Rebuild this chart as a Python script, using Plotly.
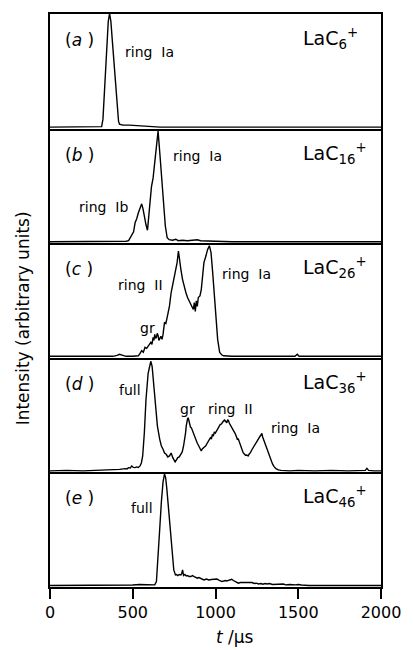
import plotly.graph_objects as go
from plotly.subplots import make_subplots

# Time-of-flight traces (t in microseconds, intensity in arbitrary units)
t_a = [0, 150, 300, 312, 320, 328, 336, 344, 352, 360, 368, 376, 384, 392, 400, 408, 414, 420,
       440, 480, 520, 560, 600, 640, 665, 900, 1200, 1500, 1800, 2000]
i_a = [0, 0, 0, 0.5, 8, 30, 55, 85, 106, 114, 106, 88, 72, 55, 35, 16, 6, 3,
       2, 2, 1.5, 1.5, 1, 0.5, 0, 0, 0, 0, 0, 0]

t_b = [0, 200, 400, 460, 475, 485, 495, 505, 514, 524, 534, 544, 554, 562, 570, 580, 589, 600,
       613, 623, 633, 643, 653, 663, 673, 683, 690, 697, 708, 720, 740, 760, 775, 800, 830, 860,
       890, 910, 950, 1000, 1100, 1200, 1400, 1600, 1800, 2000]
i_b = [0, 0, 0, 0.5, 1, 4, 7, 10, 19, 23, 29, 34, 38, 33, 25, 17, 11.5, 33,
       55, 64, 82, 97, 111, 90, 68, 49, 30, 15.5, 4, 2, 1.5, 2.5, 1, 1.5, 1, 1.5,
       2, 1, 0.5, 0.5, 0, 0, 0, 0, 0, 0]

t_c = [0, 200, 380, 405, 420, 440, 460, 500, 534, 544, 554, 564, 574, 584, 594, 602, 609, 616,
       623, 628, 633, 638, 643, 648, 653, 658, 663, 670, 677, 683, 692, 700, 708, 715, 722, 732,
       742, 752, 760, 768, 776, 781, 791, 801, 811, 821, 831, 841, 851, 861, 866, 872, 878, 884,
       890, 896, 906, 914, 922, 930, 942, 952, 963, 973, 983, 993, 1003, 1013, 1025, 1037, 1049,
       1100, 1200, 1300, 1400, 1480, 1494, 1505, 1600, 1800, 2000]
i_c = [0, 0, 0, 1, 2, 1, 0, 0, 0.5, 3, 5.6, 4, 9, 8, 10, 12, 14, 12,
       19, 16, 22, 18, 19, 23, 21, 16, 18, 20, 17, 22, 34, 33, 39, 44, 50.6, 64,
       72, 80.6, 88, 94, 105.6, 97, 87, 77, 69, 64, 59, 56, 52, 49, 47, 54, 45, 55.6,
       50, 59, 60.6, 67, 80.6, 94, 100.6, 107, 111, 104, 84, 60.6, 37, 17, 4, 1.5, 0.5,
       0, 0, 0, 0, 0, 2, 0, 0, 0, 0]

t_d = [0, 100, 200, 300, 380, 420, 455, 465, 475, 485, 494, 504, 514, 524, 534, 544, 552, 560,
       570, 580, 593, 601, 609, 617, 629, 639, 649, 663, 673, 683, 692, 702, 712, 722, 732, 742,
       749, 756, 764, 772, 781, 791, 799, 807, 813, 819, 823, 827, 831, 835, 839, 843, 849, 855,
       861, 866, 872, 878, 884, 890, 896, 902, 908, 914, 920, 926, 933, 940, 947, 954, 961, 969,
       975, 981, 987, 993, 999, 1005, 1011, 1017, 1023, 1029, 1035, 1041, 1048, 1055, 1061, 1068,
       1073, 1078, 1083, 1088, 1098, 1108, 1118, 1125, 1132, 1138, 1144, 1150, 1156, 1162, 1167,
       1174, 1181, 1189, 1197, 1204, 1211, 1219, 1227, 1234, 1242, 1249, 1256, 1263, 1270, 1275,
       1280, 1285, 1290, 1296, 1302, 1309, 1316, 1322, 1329, 1337, 1345, 1355, 1365, 1380, 1395,
       1450, 1500, 1600, 1700, 1800, 1880, 1905, 1915, 1925, 1960, 2000]
i_d = [0, 0.5, 0, 0.5, 1, 1.5, 2.3, 2, 3.3, 3, 5, 3.5, 3.3, 4, 3.5, 5, 8, 15,
       38, 71.7, 98, 106, 110, 105, 85, 61.7, 45, 31.7, 25, 21.7, 18, 16.7, 14, 15, 18, 13.3,
       11, 9, 11, 13.3, 14, 16.7, 19, 25, 30, 38, 45, 50, 52, 53.3, 50, 48, 44, 43,
       40, 38, 36, 33, 30, 27.7, 26, 24.3, 22, 20, 22, 23.3, 24, 25, 27, 28.3, 31, 33.3,
       32, 36.7, 35, 39, 38, 40, 42, 44.3, 45, 46.7, 47, 49, 50, 51, 50, 48.3,
       51, 50.7, 48, 46.7, 44, 41.7, 37.7, 35, 31.7, 32, 29, 26, 23.3, 21, 18.3,
       17, 15.7, 16, 15, 17, 18.3, 21, 23.3, 26, 28.3, 30, 31.7, 33, 35, 36,
       37.7, 34, 31.7, 29, 25.7, 23, 20, 16, 13.3, 10, 6.7, 4, 2.3, 1, 0.5,
       0, 0.5, 0, 0.5, 0, 0, 0.5, 2.5, 0.5, 0, 0]

t_e = [0, 200, 400, 500, 540, 580, 610, 633, 643, 653, 663, 673, 683, 692, 699, 706, 716, 726,
       738, 748, 758, 765, 772, 781, 791, 796, 801, 807, 815, 823, 831, 841, 851, 861, 871, 880,
       890, 900, 910, 920, 930, 945, 960, 975, 989, 1000, 1009, 1020, 1030, 1039, 1050, 1060,
       1068, 1080, 1092, 1098, 1108, 1118, 1128, 1138, 1150, 1167, 1180, 1195, 1207, 1220, 1235,
       1246, 1260, 1275, 1286, 1300, 1312, 1325, 1345, 1365, 1390, 1410, 1424, 1450, 1484, 1500,
       1520, 1563, 1700, 1850, 2000]
i_e = [0, 0, 0, 0.5, 1, 1, 1, 0.6, 4, 27, 57, 84, 104, 112, 108, 97, 77, 50.6,
       27, 15.6, 10.6, 11, 10, 11, 10.6, 12, 15.6, 10, 11, 9.5, 10, 9, 9, 10, 9, 8,
       7.3, 8, 7.3, 6.5, 5.6, 6.5, 5.6, 6, 6.3, 7, 6.6, 5.5, 5, 4, 4.5, 5,
       4.6, 5, 6, 6.3, 5, 4, 3, 2.3, 3, 3, 2.5, 3, 2.3, 3, 2,
       2.3, 1.5, 2, 1.3, 2, 1.5, 2, 1, 1.3, 1, 1.5, 0.6, 1, 0.6, 1,
       0.5, 0, 0, 0, 0]

series = [(t_a, i_a), (t_b, i_b), (t_c, i_c), (t_d, i_d), (t_e, i_e)]
for t, v in series:
    assert len(t) == len(v), (len(t), len(v))

panel_tags = ["(<i>a</i> )", "(<i>b</i> )", "(<i>c</i> )", "(<i>d</i> )", "(<i>e</i> )"]
species = ["LaC<sub>6</sub><sup>+</sup>", "LaC<sub>16</sub><sup>+</sup>",
           "LaC<sub>26</sub><sup>+</sup>", "LaC<sub>36</sub><sup>+</sup>",
           "LaC<sub>46</sub><sup>+</sup>"]

# peak assignments: (panel, label, t position, intensity position)
peak_labels = [
    (1, "ring\u00a0 Ia", 439, 75.5),
    (2, "ring\u00a0 Ia", 730, 86.5),
    (2, "ring\u00a0 Ib", 166, 34.5),
    (3, "ring\u00a0 II", 398, 71.5),
    (3, "gr", 534, 28.5),
    (3, "ring\u00a0 Ia", 1027, 82.5),
    (4, "full", 404, 81.5),
    (4, "gr", 772, 62.5),
    (4, "ring\u00a0 II", 944, 62.5),
    (4, "ring\u00a0 Ia", 1323, 43.5),
    (5, "full", 475, 77.5),
]

x_ticks = [0, 500, 1000, 1500, 2000]

FONT = "DejaVu Sans"
LW = 1.8

fig = make_subplots(rows=5, cols=1, shared_xaxes=True, vertical_spacing=0)

for row, (t, v) in enumerate(series, start=1):
    fig.add_trace(go.Scatter(x=t, y=v, mode="lines",
                             line=dict(color="black", width=1.4),
                             showlegend=False, hoverinfo="skip"),
                  row=row, col=1)
    fig.update_yaxes(range=[-1.5, 113.5], showline=True, mirror=True,
                     linecolor="black", linewidth=LW, showgrid=False,
                     zeroline=False, showticklabels=False, ticks="",
                     row=row, col=1)
    # each panel draws its own bottom edge; only the top panel also draws the top edge
    fig.update_xaxes(range=[0, 2000], showline=True, mirror=(row == 1),
                     linecolor="black", linewidth=LW, showgrid=False,
                     zeroline=False, row=row, col=1)

fig.update_xaxes(tickvals=x_ticks, ticktext=[str(v) for v in x_ticks],
                 ticks="outside", ticklen=10, tickwidth=1.5, tickcolor="black",
                 showticklabels=True, tickfont=dict(family=FONT, size=16, color="black"),
                 row=5, col=1)

annotations = []
for row in range(1, 6):
    xr = "x" if row == 1 else f"x{row}"
    yr = "y" if row == 1 else f"y{row}"
    annotations.append(dict(text=panel_tags[row - 1], x=77, y=87.5, xref=xr, yref=yr,
                            xanchor="left", yanchor="middle", showarrow=False,
                            font=dict(family=FONT, size=17, color="black")))
    annotations.append(dict(text=species[row - 1], x=1519, y=89, xref=xr, yref=yr,
                            xanchor="left", yanchor="middle", showarrow=False,
                            font=dict(family=FONT, size=19, color="black")))
for row, label, tx, iy in peak_labels:
    xr = "x" if row == 1 else f"x{row}"
    yr = "y" if row == 1 else f"y{row}"
    annotations.append(dict(text=label, x=tx, y=iy, xref=xr, yref=yr,
                            xanchor="left", yanchor="middle", showarrow=False,
                            font=dict(family=FONT, size=14, color="black")))

annotations.append(dict(text="Intensity (arbitrary units)", x=-0.083, y=0.468,
                        xref="paper", yref="paper", textangle=-90,
                        xanchor="center", yanchor="middle", showarrow=False,
                        font=dict(family=FONT, size=17, color="black")))
annotations.append(dict(text="<i>t</i> /\u03bcs", x=0.558, y=-0.108,
                        xref="paper", yref="paper",
                        xanchor="center", yanchor="bottom", showarrow=False,
                        font=dict(family=FONT, size=17, color="black")))

fig.update_layout(width=413, height=650,
                  margin=dict(l=50, r=26, t=12, b=63),
                  paper_bgcolor="white", plot_bgcolor="white",
                  annotations=annotations)

fig.write_html("out.html")
